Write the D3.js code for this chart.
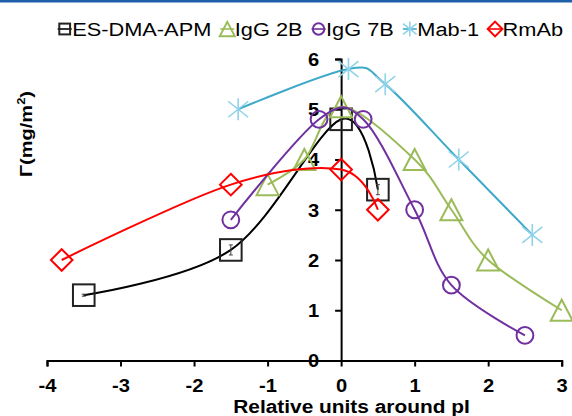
<!DOCTYPE html>
<html>
<head>
<meta charset="utf-8">
<script src="https://cdn.jsdelivr.net/npm/d3@7"></script>
<style>
  body { margin: 0; background: #fff; }
  text { font-family: Arial, "Liberation Sans", sans-serif; }
</style>
</head>
<body>
<svg id="chart" width="572" height="416"></svg>
<script>
// tick values
const xTicks = [-4, -3, -2, -1, 0, 1, 2, 3];
const yTicks = [0, 1, 2, 3, 4, 5, 6];

// series
const seriesNames = ["ES-DMA-APM", "IgG 2B", "IgG 7B", "Mab-1", "RmAb"];
const esX = [-3.5, -1.5, 0, 0.5];
const esY = [1.3, 2.2, 4.8, 3.4];
const esErr = [0.02, 0.1, 0.03, 0.1];
const g2bX = [-1, -0.5, 0, 1, 1.5, 2, 3];
const g2bY = [3.5, 4.0, 5.05, 4.0, 3.0, 2.0, 1.0];
const g7bX = [-1.5, -0.3, 0.3, 1, 1.5, 2.5];
const g7bY = [2.8, 4.8, 4.8, 3.0, 1.5, 0.5];
const mabX = [-1.4, 0.1, 0.6, 1.6, 2.6];
const mabY = [5.0, 5.8, 5.5, 4.0, 2.5];
const rmX = [-3.8, -1.5, 0, 0.5];
const rmY = [2.0, 3.5, 3.8, 3.0];

const series = [
  { name: seriesNames[0], xs: esX, ys: esY, err: esErr, line: "#000", mark: "#222", shape: "square" },
  { name: seriesNames[1], xs: g2bX, ys: g2bY, line: "#9bbb59", mark: "#9bbb59", shape: "triangle" },
  { name: seriesNames[2], xs: g7bX, ys: g7bY, line: "#7030a0", mark: "#7030a0", shape: "circle" },
  { name: seriesNames[3], xs: mabX, ys: mabY, line: "#3fa9c9", mark: "#8fd3ea", shape: "star" },
  { name: seriesNames[4], xs: rmX, ys: rmY, line: "#ff0000", mark: "#ff0000", shape: "diamond" },
];

const svg = d3.select("#chart");

const x = d3.scaleLinear().domain([-4, 3]).range([47, 561.7]);
const y = d3.scaleLinear().domain([0, 6]).range([360.5, 59]);

// blue rule at the top
svg.append("rect").attr("x", 0).attr("y", 0).attr("width", 572).attr("height", 2.5).attr("fill", "#1f5ea8");

// marker shapes, s = scale
function drawMarker(g, shape, color, s) {
  const sw = 2;
  if (shape === "square") {
    g.append("rect").attr("x", -10.8 * s).attr("y", -10.8 * s)
      .attr("width", 21.6 * s).attr("height", 21.6 * s)
      .attr("fill", "none").attr("stroke", color).attr("stroke-width", sw);
  } else if (shape === "triangle") {
    g.append("path")
      .attr("d", `M0,${-10.5 * s}L${11 * s},${10.5 * s}L${-11 * s},${10.5 * s}Z`)
      .attr("fill", "none").attr("stroke", color).attr("stroke-width", sw);
  } else if (shape === "circle") {
    g.append("circle").attr("r", 8.4 * s)
      .attr("fill", "none").attr("stroke", color).attr("stroke-width", sw);
  } else if (shape === "star") {
    g.append("path")
      .attr("d", `M0,${-11 * s}V${11 * s}M${-10 * s},${-8 * s}L${10 * s},${8 * s}M${-10 * s},${8 * s}L${10 * s},${-8 * s}`)
      .attr("fill", "none").attr("stroke", color).attr("stroke-width", 1.6);
  } else if (shape === "diamond") {
    g.append("path")
      .attr("d", `M0,${-10.8 * s}L${10.8 * s},0L0,${10.8 * s}L${-10.8 * s},0Z`)
      .attr("fill", "none").attr("stroke", color).attr("stroke-width", sw);
  }
}

// axes (plain hyphen for negatives, like the original)
const fmt = (d) => String(d);
const xAxis = svg.append("g")
  .attr("transform", `translate(0,${y(0)})`)
  .call(d3.axisBottom(x).tickValues(xTicks).tickSize(6).tickPadding(13).tickFormat(fmt));

const yAxis = svg.append("g")
  .attr("transform", `translate(${x(0)},0)`)
  .call(d3.axisLeft(y).tickValues(yTicks).tickSize(6).tickPadding(16).tickFormat(fmt));

[xAxis, yAxis].forEach((a) => {
  a.selectAll("path, line").attr("stroke", "#000").attr("stroke-width", 2);
  a.selectAll("text")
    .attr("fill", "#000")
    .style("font-size", "18px")
    .style("font-weight", "bold");
});
xAxis.selectAll("text").attr("transform", "scale(1.12,1)");
yAxis.selectAll("text").attr("x", -22 / 1.12).attr("dy", "0.36em").attr("transform", "scale(1.12,1)");

// series lines and markers
const line = d3.line()
  .x((d) => x(d[0]))
  .y((d) => y(d[1]))
  .curve(d3.curveCardinal.tension(0));

series.forEach((s) => {
  const pts = s.xs.map((v, i) => [v, s.ys[i]]);
  svg.append("path")
    .datum(pts)
    .attr("d", line)
    .attr("fill", "none")
    .attr("stroke", s.line)
    .attr("stroke-width", 2);

  if (s.err) {
    pts.forEach((p, i) => {
      const e = s.err[i];
      const cx = x(p[0]);
      svg.append("path")
        .attr("d", `M${cx},${y(p[1] - e)}V${y(p[1] + e)}M${cx - 2},${y(p[1] - e)}H${cx + 2}M${cx - 2},${y(p[1] + e)}H${cx + 2}`)
        .attr("stroke", "#444").attr("stroke-width", 1).attr("fill", "none");
    });
  }

  pts.forEach((p) => {
    const g = svg.append("g").attr("transform", `translate(${x(p[0])},${y(p[1])})`);
    drawMarker(g, s.shape, s.mark, 1);
  });
});

// legend
const legend = svg.append("g");
let lx = 64.7;
const ly = 29;
series.forEach((s) => {
  const g = legend.append("g").attr("transform", `translate(${lx},${ly})`);
  g.append("line").attr("x1", -7).attr("x2", 7).attr("stroke", s.line).attr("stroke-width", 1.6);
  drawMarker(g, s.shape, s.mark, s.shape === "square" ? 0.5 : 0.68);
  const tx = lx + 7.5;
  const t = legend.append("text")
    .attr("transform", `translate(${tx},35.5) scale(1.21,1)`)
    .style("font-size", "18px")
    .attr("fill", "#000")
    .text(s.name);
  const w = t.node().getComputedTextLength() * 1.21;
  lx = tx + w + 16;
});

// axis titles
svg.append("text")
  .attr("transform", "translate(351.5,413.3) scale(1.16,1)")
  .attr("text-anchor", "middle")
  .style("font-size", "18px")
  .style("font-weight", "bold")
  .text("Relative units around pI");

const yt = svg.append("text")
  .attr("transform", "translate(31.5,134) rotate(-90) scale(1.18,1)")
  .attr("text-anchor", "middle")
  .style("font-size", "17px")
  .style("font-weight", "bold");
yt.append("tspan").text("Γ(mg/m");
yt.append("tspan").attr("dy", -7).style("font-size", "11px").text("2");
yt.append("tspan").attr("dy", 7).text(")");
</script>
</body>
</html>
